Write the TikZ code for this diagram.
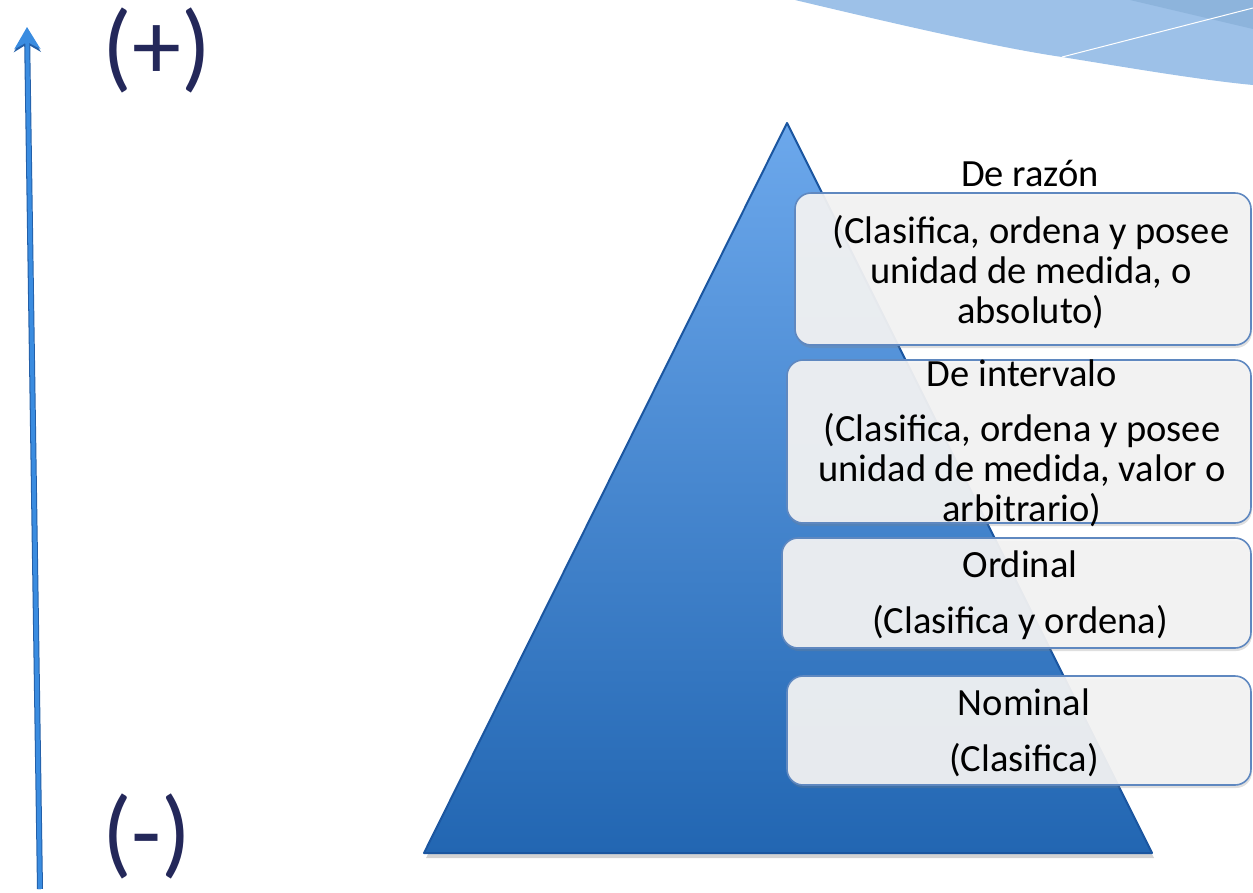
\documentclass[tikz,border=0pt]{standalone}
\usepackage{fontspec}
\setmainfont{Carlito}
\usetikzlibrary{shadows,arrows.meta}
\definecolor{navy}{HTML}{24285A}
\definecolor{tritop}{HTML}{6CA8EC}
\definecolor{tribot}{HTML}{2266B2}
\definecolor{triedge}{HTML}{1B56A0}
\definecolor{boxfill}{HTML}{F4F4F4}
\definecolor{boxedge}{HTML}{5F88C0}
\definecolor{arrblue}{HTML}{3A8CE0}
\definecolor{arredge}{HTML}{235FA8}
\definecolor{decoA}{HTML}{9DC1E8}
\definecolor{decoB}{HTML}{8DB4DC}
\tikzset{
  levelbox/.style={draw=boxedge, line width=1.6pt, fill=boxfill, fill opacity=0.93,
    rounded corners=16pt, inner sep=0pt,
    drop shadow={opacity=0.25, shadow xshift=1pt, shadow yshift=-3pt}},
  bodytext/.style={font=\fontsize{38.5}{40}\selectfont, align=center, inner sep=0pt, text=black},
  signtext/.style={font=\fontsize{98}{104}\selectfont, text=navy, inner sep=0pt},
  arrowline/.style={line width=4pt, draw=arrblue,
    -{Stealth[length=22pt, width=26pt, inset=7pt]}},
}
\begin{document}
\begin{tikzpicture}[x=1pt,y=-1pt]
\useasboundingbox (0,0) rectangle (1253,892);
% top-right decoration
\fill[decoA] (795,0) .. controls (900,25) and (1000,48) .. (1062,57)
  .. controls (1130,68) and (1200,80) .. (1253,85) -- (1253,0) -- cycle;
\fill[decoB] (1130,0) -- (1253,29) -- (1253,0) -- cycle;
\draw[white, line width=1pt] (1062,57) -- (1253,8);
% pyramid
\path[drop shadow={opacity=0.35, shadow xshift=2pt, shadow yshift=-5pt},
  top color=tritop, bottom color=tribot, draw=triedge, line width=2pt, line join=round]
  (787,123) -- (1152,853) -- (424,853) -- cycle;
% arrow
\coordinate (abot) at (40,889);
\coordinate (atop) at (27,30);
\draw[line width=6pt, draw=arredge, -{Stealth[length=22pt, width=27pt, inset=8pt]}] (abot) -- (atop);
\draw[arrowline] (abot) -- ([yshift=3pt]atop);
% signs
\node[signtext] (plus) at (157,50) {(+)};
\node[signtext] (minus) at (147,836) {(-)};
% boxes
\node[levelbox, minimum width=456pt, minimum height=152pt] (b1) at (1023,269) {};
\node[levelbox, minimum width=464pt, minimum height=163pt] (b2) at (1019,441.5) {};
\node[levelbox, minimum width=469pt, minimum height=110pt] (b3) at (1016.5,593) {};
\node[levelbox, minimum width=464pt, minimum height=109pt] (b4) at (1019,730.5) {};
% texts
\node[bodytext] (t1) at (1030,173) {De razón};
\node[bodytext] (d1) at (1031,272) {(Clasifica, ordena y posee\\unidad de medida, o\\absoluto)};
\node[bodytext] (t2) at (1022,373) {De intervalo};
\node[bodytext] (d2) at (1022,470) {(Clasifica, ordena y posee\\unidad de medida, valor o\\arbitrario)};
\node[bodytext] (t3) at (1020,564) {Ordinal};
\node[bodytext] (d3) at (1020,623) {(Clasifica y ordena)};
\node[bodytext] (t4) at (1024,702) {Nominal};
\node[bodytext] (d4) at (1024,760) {(Clasifica)};
\end{tikzpicture}
\end{document}
